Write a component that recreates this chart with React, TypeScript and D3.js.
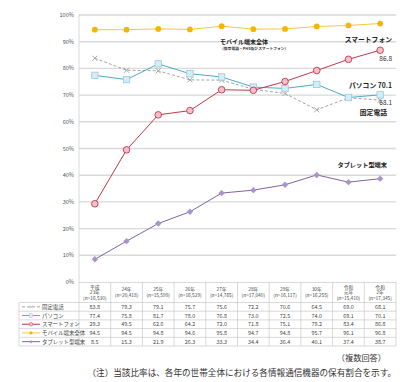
import React from "react";
import * as d3 from "d3";

const categories = ["H23", "H24", "H25", "H26", "H27", "H28", "H29", "H30", "R1", "R2"];
const headerLines = [
  ["平成", "23年", "(n=16,530)"],
  ["24年", "(n=20,418)"],
  ["25年", "(n=15,599)"],
  ["26年", "(n=16,529)"],
  ["27年", "(n=14,765)"],
  ["28年", "(n=17,040)"],
  ["29年", "(n=16,117)"],
  ["30年", "(n=16,255)"],
  ["令和", "元年", "(n=15,410)"],
  ["令和", "2年", "(n=17,345)"],
];
const landline = [83.8, 79.3, 79.1, 75.7, 75.6, 72.2, 70.6, 64.5, 69.0, 68.1];
const pc = [77.4, 75.8, 81.7, 78.0, 76.8, 73.0, 72.5, 74.0, 69.1, 70.1];
const smartphone = [29.3, 49.5, 62.6, 64.2, 72.0, 71.8, 75.1, 79.2, 83.4, 86.8];
const mobile = [94.5, 94.5, 94.8, 94.6, 95.8, 94.7, 94.8, 95.7, 96.1, 96.8];
const tablet = [8.5, 15.3, 21.9, 26.3, 33.3, 34.4, 36.4, 40.1, 37.4, 38.7];
const yTicks = [0, 10, 20, 30, 40, 50, 60, 70, 80, 90, 100];

const seriesNames = ["固定電話", "パソコン", "スマートフォン", "モバイル端末全体", "タブレット型端末"];

const FONT = "'Noto Sans CJK JP', 'Noto Sans', sans-serif";

type S = { name: string; values: number[]; line: string; dash?: string; marker: string; fill: string; stroke: string };

const series: S[] = [
  { name: seriesNames[0], values: landline, line: "#a6a6a6", dash: "3,2", marker: "x", fill: "none", stroke: "#a6a6a6" },
  { name: seriesNames[1], values: pc, line: "#4bacc6", marker: "square", fill: "#d5ecf6", stroke: "#93cddd" },
  { name: seriesNames[2], values: smartphone, line: "#c0394a", marker: "circle", fill: "#f3bfcb", stroke: "#c0394a" },
  { name: seriesNames[3], values: mobile, line: "#f9c642", marker: "dot", fill: "#f7b500", stroke: "#f7b500" },
  { name: seriesNames[4], values: tablet, line: "#8064a2", marker: "diamond", fill: "#a894c8", stroke: "#a894c8" },
];

function Marker({ s, x, y }: { s: S; x: number; y: number }) {
  if (s.marker === "x")
    return (
      <g stroke={s.stroke} strokeWidth={1}>
        <line x1={x - 2.5} y1={y - 2.5} x2={x + 2.5} y2={y + 2.5} />
        <line x1={x - 2.5} y1={y + 2.5} x2={x + 2.5} y2={y - 2.5} />
      </g>
    );
  if (s.marker === "square")
    return <rect x={x - 3.2} y={y - 3.2} width={6.4} height={6.4} fill={s.fill} stroke={s.stroke} strokeWidth={0.8} />;
  if (s.marker === "circle") return <circle cx={x} cy={y} r={3.3} fill={s.fill} stroke={s.stroke} strokeWidth={0.9} />;
  if (s.marker === "dot") return <circle cx={x} cy={y} r={2.9} fill={s.fill} />;
  return <path d={`M${x},${y - 3.2}L${x + 3.2},${y}L${x},${y + 3.2}L${x - 3.2},${y}Z`} fill={s.fill} />;
}

export default function App() {
  const left = 79, right = 396, top = 15, bottom = 282;
  const x = d3.scaleBand<string>().domain(categories).range([left, right]);
  const y = d3.scaleLinear().domain([0, 100]).range([bottom, top]);
  const cx = (i: number) => (x(categories[i]) as number) + x.bandwidth() / 2;
  const line = d3
    .line<number>()
    .x((_, i) => cx(i))
    .y((d) => y(d));

  const tableLeft = 19;
  const headerBottom = 302.5;
  const rowH = 8.7;
  const tableBottom = headerBottom + rowH * 5;

  return (
    <svg width={408} height={382} style={{ position: "absolute", left: 0, top: 0, background: "#fff" }} fontFamily={FONT}>
      {yTicks.map((t) => (
        <g key={t}>
          {t > 0 && <line x1={left} x2={right} y1={y(t)} y2={y(t)} stroke="#d9d9d9" strokeWidth={1.4} />}
          <text x={74} y={y(t) + 2} fontSize={5.6} textAnchor="end" fill="#555">
            {t}%
          </text>
        </g>
      ))}
      <line x1={left} x2={left} y1={top} y2={bottom} stroke="#d9d9d9" strokeWidth={1} />

      {series.map((s) => (
        <g key={s.name}>
          <path d={line(s.values) as string} fill="none" stroke={s.line} strokeWidth={1} strokeDasharray={s.dash} />
          {s.values.map((v, i) => (
            <Marker key={i} s={s} x={cx(i)} y={y(v)} />
          ))}
        </g>
      ))}

      {/* labels */}
      <text x={392} y={42} fontSize={6.8} fontWeight="bold" textAnchor="end" fill="#222">スマートフォン</text>
      <text x={392} y={61} fontSize={6.5} textAnchor="end" fill="#333">{smartphone[9].toFixed(1)}</text>
      <text x={392} y={88} fontSize={6.8} fontWeight="bold" textAnchor="end" fill="#222">パソコン {pc[9].toFixed(1)}</text>
      <text x={392} y={105} fontSize={6.5} textAnchor="end" fill="#333">{landline[9].toFixed(1)}</text>
      <text x={387} y={115} fontSize={6.8} fontWeight="bold" textAnchor="end" fill="#222">固定電話</text>
      <text x={387} y={167} fontSize={6.2} fontWeight="bold" textAnchor="end" fill="#222">タブレット型端末</text>
      <text x={220} y={44} fontSize={6} fontWeight="bold" fill="#222">モバイル端末全体</text>
      <text x={220} y={50} fontSize={3.8} fontWeight="bold" fill="#333">（携帯電話・PHS及びスマートフォン）</text>

      {/* table */}
      <g stroke="#bfbfbf" strokeWidth={0.6}>
        <line x1={left} x2={right} y1={bottom + 0.5} y2={bottom + 0.5} />
        {categories.map((c) => (
          <line key={c} x1={x(c) as number} x2={x(c) as number} y1={bottom} y2={tableBottom} />
        ))}
        <line x1={right} x2={right} y1={bottom} y2={tableBottom} />
        <line x1={tableLeft} x2={tableLeft} y1={headerBottom} y2={tableBottom} />
        {d3.range(6).map((r) => (
          <line key={r} x1={tableLeft} x2={right} y1={headerBottom + r * rowH} y2={headerBottom + r * rowH} />
        ))}
      </g>
      {headerLines.map((lines, i) => {
        const n = lines.length;
        const mid = (bottom + headerBottom) / 2 + 2;
        return lines.map((l, j) => (
          <text key={i + "-" + j} x={cx(i)} y={mid + (j - (n - 1) / 2) * 5.6} fontSize={4.8} textAnchor="middle" fill="#444">
            {l}
          </text>
        ));
      })}
      {series.map((s, r) => {
        const ry = headerBottom + r * rowH + rowH / 2;
        return (
          <g key={s.name}>
            <line x1={22} x2={40} y1={ry} y2={ry} stroke={s.line} strokeWidth={1} strokeDasharray={s.dash} />
            <g transform={`translate(31,${ry}) scale(0.55) translate(-31,${-ry})`}>
              <Marker s={s} x={31} y={ry} />
            </g>
            <text x={42} y={ry + 2} fontSize={5.4} fill="#444">{s.name}</text>
            {s.values.map((v, i) => (
              <text key={i} x={cx(i)} y={ry + 2} fontSize={5.4} textAnchor="middle" fill="#444">
                {v.toFixed(1)}
              </text>
            ))}
          </g>
        );
      })}

      <text x={386} y={361} fontSize={8.2} textAnchor="end" fill="#333">（複数回答）</text>
      <text x={396} y={376} fontSize={8.6} textAnchor="end" fill="#333">
        （注）当該比率は、各年の世帯全体における各情報通信機器の保有割合を示す。
      </text>
    </svg>
  );
}
